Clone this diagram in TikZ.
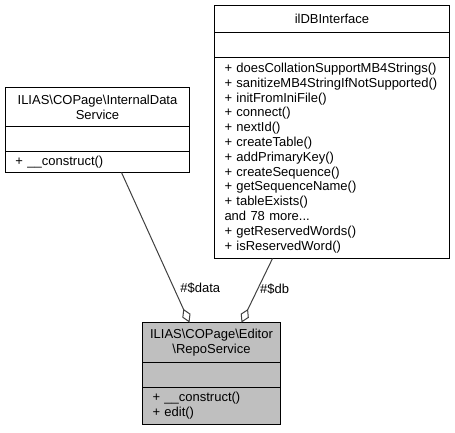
\documentclass[tikz,border=0pt]{standalone}
\usepackage{fontspec}
\setmainfont{Liberation Sans}
\usetikzlibrary{positioning,arrows.meta}

\begin{document}
\begin{tikzpicture}[x=1pt, y=-1pt,
  %%Estilos
  box/.style   = {draw=black, line width=1pt, inner sep=0pt, outer sep=0pt,
    font=\fontsize{13}{14.8}\selectfont},
  title/.style = {box, align=center},
  attr/.style  = {box, minimum height=25pt},
  ops/.style   = {box, align=left, inner xsep=10pt, inner ysep=2pt},
  focus/.style = {fill=black!25},
  aggr/.style  = {draw=black!75, line width=1pt,
    {Diamond[open, length=15pt, width=9pt]}-},
  lbl/.style   = {anchor=west, inner sep=0pt, font=\fontsize{13}{14.8}\selectfont}
  ]
  \useasboundingbox (0,0) rectangle (455,433);

  %%InternalDataService
  \node [title, text width=184pt, minimum height=39pt, anchor=north west]
    (dataTitle) at (5.5,87.5) {ILIAS\textbackslash COPage\textbackslash InternalData\\Service};
  \node [attr, minimum width=184pt, below=0pt of dataTitle] (dataAttr) {};
  \node [ops, text width=164pt, minimum height=21pt, below=0pt of dataAttr]
    (dataOps) {+ \_\_construct()};

  %%ilDBInterface
  \node [title, text width=235pt, minimum height=27pt, anchor=north west]
    (dbTitle) at (214.5,5.5) {ilDBInterface};
  \node [attr, minimum width=235pt, below=0pt of dbTitle] (dbAttr) {};
  \node [ops, text width=215pt, minimum height=201pt, below=0pt of dbAttr] (dbOps) {%
    + doesCollationSupportMB4Strings()\\
    + sanitizeMB4StringIfNotSupported()\\
    + initFromIniFile()\\
    + connect()\\
    + nextId()\\
    + createTable()\\
    + addPrimaryKey()\\
    + createSequence()\\
    + getSequenceName()\\
    + tableExists()\\
    and 78 more...\\
    + getReservedWords()\\
    + isReservedWord()};

  %%RepoService
  \node [title, focus, text width=138pt, minimum height=40pt, anchor=north west]
    (repoTitle) at (142.5,322.5) {ILIAS\textbackslash COPage\textbackslash Editor\\\textbackslash RepoService};
  \node [attr, focus, minimum width=138pt, below=0pt of repoTitle] (repoAttr) {};
  \node [ops, focus, text width=118pt, minimum height=37pt, below=0pt of repoAttr] (repoOps) {%
    + \_\_construct()\\
    + edit()};

  %%Conectores
  \coordinate (dataFoot) at ([xshift=116pt]dataOps.south west);
  \coordinate (dbFoot)   at ([xshift=58pt]dbOps.south west);
  \coordinate (repoData) at ([xshift=47pt]repoTitle.north west);
  \coordinate (repoDb)   at ([xshift=99pt]repoTitle.north west);

  \draw [aggr] (repoData) -- node [lbl, pos=0.23, xshift=6pt] {\#\$data} (dataFoot);
  \draw [aggr] (repoDb) -- node [lbl, pos=0.52, xshift=2pt] {\#\$db} (dbFoot);
\end{tikzpicture}
\end{document}
